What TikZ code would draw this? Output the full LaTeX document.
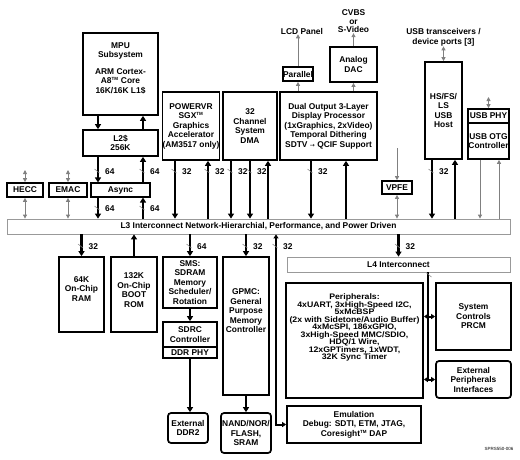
\documentclass[tikz,border=0pt]{standalone}
\usepackage{fontspec}
\setmainfont{Liberation Sans}
\newfontfamily\dejavu{DejaVu Sans}
\newfontfamily\perffam{Liberation Sans}[FakeStretch=1.09]
\usetikzlibrary{arrows.meta}
\newcommand\mainf{\fontsize{8.4}{9.5}\selectfont\bfseries}
\newcommand\perf{\perffam\fontsize{8}{7.5}\selectfont\bfseries}
\newcommand\tmk{\textsuperscript{\fontsize{4.5}{5}\selectfont TM}}
\newcommand\buslab[4]{%
  \draw[tick] (#2-3.5,#3-3) -- (#2+1.5,#3+1);
  \node[lab] (#1) at (#2+7,#3) {#4};}
\begin{document}
\begin{tikzpicture}[x=1pt,y=-1pt,
  box/.style={draw, line width=1.7pt, fill=white, align=center, inner sep=0pt, font=\mainf},
  rbox/.style={box, rounded corners=3pt},
  abox/.style={box, line width=1.1pt},
  bar/.style={draw=gray!80, line width=0.8pt, fill=white, inner sep=0pt, font=\mainf},
  txt/.style={align=center, inner sep=0pt, font=\mainf},
  lab/.style={anchor=west, inner sep=0pt, font=\mainf},
  bus/.style={line width=2.2pt, -{Triangle[width=6pt,length=5pt]}},
  dbus/.style={line width=2pt, {Triangle[width=5pt,length=4pt]}-{Triangle[width=5pt,length=4pt]}},
  plainbus/.style={line width=2.2pt},
  thin/.style={draw=gray, line width=0.9pt, -{Triangle[width=4pt,length=4pt]}},
  dthin/.style={draw=gray, line width=0.9pt, {Triangle[width=4pt,length=4pt]}-{Triangle[width=4pt,length=4pt]}},
  tick/.style={draw=gray, line width=0.5pt}
]
\useasboundingbox (0,0) rectangle (520,459);

% ---------- boxes above L3 ----------
\node[box, minimum width=75pt, minimum height=82pt] (mpu) at (120.5,74) {};
\node[txt] (mpu-t) at (120.5,68) {MPU\\Subsystem\\[7pt]ARM Cortex-\\A8\tmk{} Core\\16K/16K L1\$};
\node[box, minimum width=75pt, minimum height=26pt] (l2) at (120.5,143) {L2\$\\256K};
\node[abox, minimum width=59pt, minimum height=14pt] (async) at (120.5,190) {Async};
\node[box, minimum width=36pt, minimum height=14pt] (hecc) at (25,190) {HECC};
\node[box, minimum width=38pt, minimum height=14pt] (emac) at (68,190) {EMAC};
\node[box, minimum width=56pt, minimum height=68pt] (pvr) at (191,126) {POWERVR\\SGX\tmk\\Graphics\\Accelerator\\(AM3517 only)};
\node[box, minimum width=54pt, minimum height=68pt] (dma) at (250,126) {32\\Channel\\System\\DMA};
\node[box, minimum width=97pt, minimum height=68pt] (disp) at (328.5,126) {Dual Output 3-Layer\\Display Processor\\(1xGraphics, 2xVideo)\\Temporal Dithering\\SDTV {\dejavu\mdseries\fontsize{6}{6}\selectfont →} QCIF Support};
\node[box, minimum width=28pt, minimum height=14pt] (par) at (298,74) {Parallel};
\node[box, minimum width=47pt, minimum height=35pt] (dac) at (353.5,64.5) {Analog\\DAC};
\node[txt] (lcd) at (302,31) {LCD Panel};
\node[txt, font=\fontsize{8.4}{8.5}\selectfont\bfseries] (cvbs) at (353.5,21.5) {CVBS\\or\\S-Video};
\node[box, minimum width=37pt, minimum height=97pt] (host) at (443.5,110.5) {HS/FS/\\LS\\USB\\Host};
\node[txt] (usbt) at (443.5,37.5) {USB transceivers /\\device ports [3]};
\node[box, minimum width=41pt, minimum height=14pt] (phy) at (488.5,116) {USB PHY};
\node[box, minimum width=41pt, minimum height=36pt] (otg) at (488.5,141) {USB OTG\\Controller};
\node[box, minimum width=30pt, minimum height=13pt] (vpfe) at (397,187.5) {VPFE};

% ---------- L3 ----------
\node[bar, minimum width=503pt, minimum height=15pt] (l3) at (258.5,226.5) {L3 Interconnect Network-Hierarchial, Performance, and Power Driven};

% ---------- boxes below L3 ----------
\node[box, minimum width=45pt, minimum height=75pt] (ram) at (81.5,294.5) {};
\node[txt] (ram-t) at (81.5,289) {64K\\On-Chip\\RAM};
\node[box, minimum width=46pt, minimum height=75pt] (rom) at (134,294.5) {};
\node[txt] (rom-t) at (134,290) {132K\\On-Chip\\BOOT\\ROM};
\node[box, minimum width=54pt, minimum height=51pt] (sms) at (190,282.5) {SMS:\\SDRAM\\Memory\\Scheduler/\\Rotation};
\node[box, minimum width=54pt, minimum height=25pt] (sdrc) at (190,334.5) {SDRC\\Controller};
\node[box, minimum width=54pt, minimum height=11pt] (ddrphy) at (190,352.5) {DDR PHY};
\node[rbox, minimum width=40pt, minimum height=30pt] (ddr2) at (188,428) {External\\DDR2};
\node[box, minimum width=46pt, minimum height=138pt] (gpmc) at (246,326) {};
\node[txt] (gpmc-t) at (246,311) {GPMC:\\General\\Purpose\\Memory\\Controller};
\node[rbox, minimum width=50pt, minimum height=40pt] (nand) at (246,433) {NAND/NOR/\\FLASH,\\SRAM};
\node[bar, minimum width=223pt, minimum height=15pt] (l4) at (398.5,264.5) {L4 Interconnect};
\node[box, minimum width=137pt, minimum height=115pt] (periph) at (354.5,340.5) {};
\node[txt, font=\perf] (periph-t) at (354.5,327.5) {Peripherals:\\4xUART, 3xHigh-Speed I2C,\\5xMcBSP\\(2x with Sidetone/Audio Buffer)\\4xMcSPI, 186xGPIO,\\3xHigh-Speed MMC/SDIO,\\HDQ/1 Wire,\\12xGPTimers, 1xWDT,\\32K Sync Timer};
\node[box, minimum width=75pt, minimum height=67pt] (sys) at (473.5,316.5) {System\\Controls\\PRCM};
\node[rbox, minimum width=75pt, minimum height=37pt] (ext) at (473.5,379.5) {External\\Peripherals\\Interfaces};
\node[box, minimum width=134pt, minimum height=37pt] (emul) at (354,424.5) {Emulation\\Debug: SDTI, ETM, JTAG,\\Coresight\tmk{} DAP};
\node[inner sep=0pt, font=\fontsize{4.5}{5}\selectfont] (ref) at (499,449) {SPRS550-006};

% ---------- connectors above L3 ----------
\coordinate (hecc-top) at (25,170);
\coordinate (emac-top) at (68,170);
\draw[dthin] (hecc-top) -- (hecc.north);
\draw[dthin] (hecc.south) -- (hecc.south |- l3.north);
\draw[dthin] (emac-top) -- (emac.north);
\draw[dthin] (emac.south) -- (emac.south |- l3.north);

\draw[bus] ([xshift=-22.5]mpu.south) -- ([xshift=-22.5]l2.north);
\draw[bus] ([xshift=22.5]l2.north) -- ([xshift=22.5]mpu.south);
\draw[bus] ([xshift=-22.5]l2.south) -- ([xshift=-22.5]async.north);
\draw[bus] ([xshift=22.5]async.north) -- ([xshift=22.5]l2.south);
\draw[bus] ([xshift=-22.5]async.south) -- ([xshift=-22.5]async.south |- l3.north);
\draw[bus] ([xshift=22.5]async.south |- l3.north) -- ([xshift=22.5]async.south);
\buslab{lab1}{98}{172}{64}
\buslab{lab2}{143}{172}{64}
\buslab{lab3}{98}{209}{64}
\buslab{lab4}{143}{209}{64}

\draw[bus] ([xshift=-16]pvr.south) -- ([xshift=-16]pvr.south |- l3.north);
\draw[bus] ([xshift=17]pvr.south |- l3.north) -- ([xshift=17]pvr.south);
\buslab{lab5}{175}{172}{32}
\buslab{lab6}{208}{172}{32}
\draw[bus] ([xshift=-19]dma.south) -- ([xshift=-19]dma.south |- l3.north);
\draw[bus] (dma.south) -- (dma.south |- l3.north);
\draw[bus] ([xshift=18]dma.south |- l3.north) -- ([xshift=18]dma.south);
\buslab{lab7}{231}{172}{32}
\buslab{lab8}{250}{172}{32}
\draw[bus] ([xshift=-17.5]disp.south) -- ([xshift=-17.5]disp.south |- l3.north);
\draw[bus] ([xshift=17.5]disp.south |- l3.north) -- ([xshift=17.5]disp.south);
\buslab{lab9}{311}{172}{32}

\draw[thin] (disp.north -| par.south) -- (par.south);
\draw[thin] (par.north) -- (lcd.south -| par.north);
\draw[thin] (disp.north -| dac.south) -- (dac.south);
\draw[thin] (dac.north) -- (cvbs.south -| dac.north);

\draw[dthin] (usbt.south) -- (host.north);
\draw[bus] ([xshift=-11.5]host.south) -- ([xshift=-11.5]host.south |- l3.north);
\draw[bus] ([xshift=11.5]host.south |- l3.north) -- ([xshift=11.5]host.south);
\buslab{lab10}{432}{172}{32}

\coordinate (phy-top) at (488.5,97);
\draw[dthin] (phy-top) -- (phy.north);
\draw[thin] ([xshift=-8.5]otg.south) -- ([xshift=-8.5]otg.south |- l3.north);
\draw[thin] ([xshift=10.5]otg.south |- l3.north) -- ([xshift=10.5]otg.south);

\coordinate (vpfe-top) at (397,148);
\draw[thin] (vpfe-top) -- (vpfe.north);
\draw[dthin] (vpfe.south) -- (vpfe.south |- l3.north);

% ---------- connectors below L3 ----------
\draw[bus] (l3.south -| ram.north) -- (ram.north);
\buslab{lab11}{81.5}{247}{32}
\draw[bus] (rom.north) -- (l3.south -| rom.north);
\draw[bus] (l3.south -| sms.north) -- (sms.north);
\buslab{lab12}{190}{247}{64}
\draw[bus] (sms.south) -- (sdrc.north);
\draw[bus] (ddrphy.south) -- (ddrphy.south |- ddr2.north);
\draw[bus] (l3.south -| gpmc.north) -- (gpmc.north);
\buslab{lab13}{246}{247}{32}
\draw[bus] (gpmc.south) -- (nand.north);
\coordinate (eb) at (276,0);
\draw[dbus] (emul.west) -| (eb |- l3.south);
\buslab{lab14}{276}{247}{32}
\draw[bus] (l3.south -| l4.north) -- (l4.north);
\buslab{lab15}{398.5}{247}{32}

\coordinate (l4bus) at (428,0);
\draw[plainbus] (l4.south -| l4bus) -- (l4bus |- ext.west);
\draw[tick] (426.5,273) -- (431.5,277);
\draw[dbus] (periph.east |- sys.west) -- (sys.west);
\draw[dbus] (periph.east |- ext.west) -- (ext.west);
\end{tikzpicture}
\end{document}
